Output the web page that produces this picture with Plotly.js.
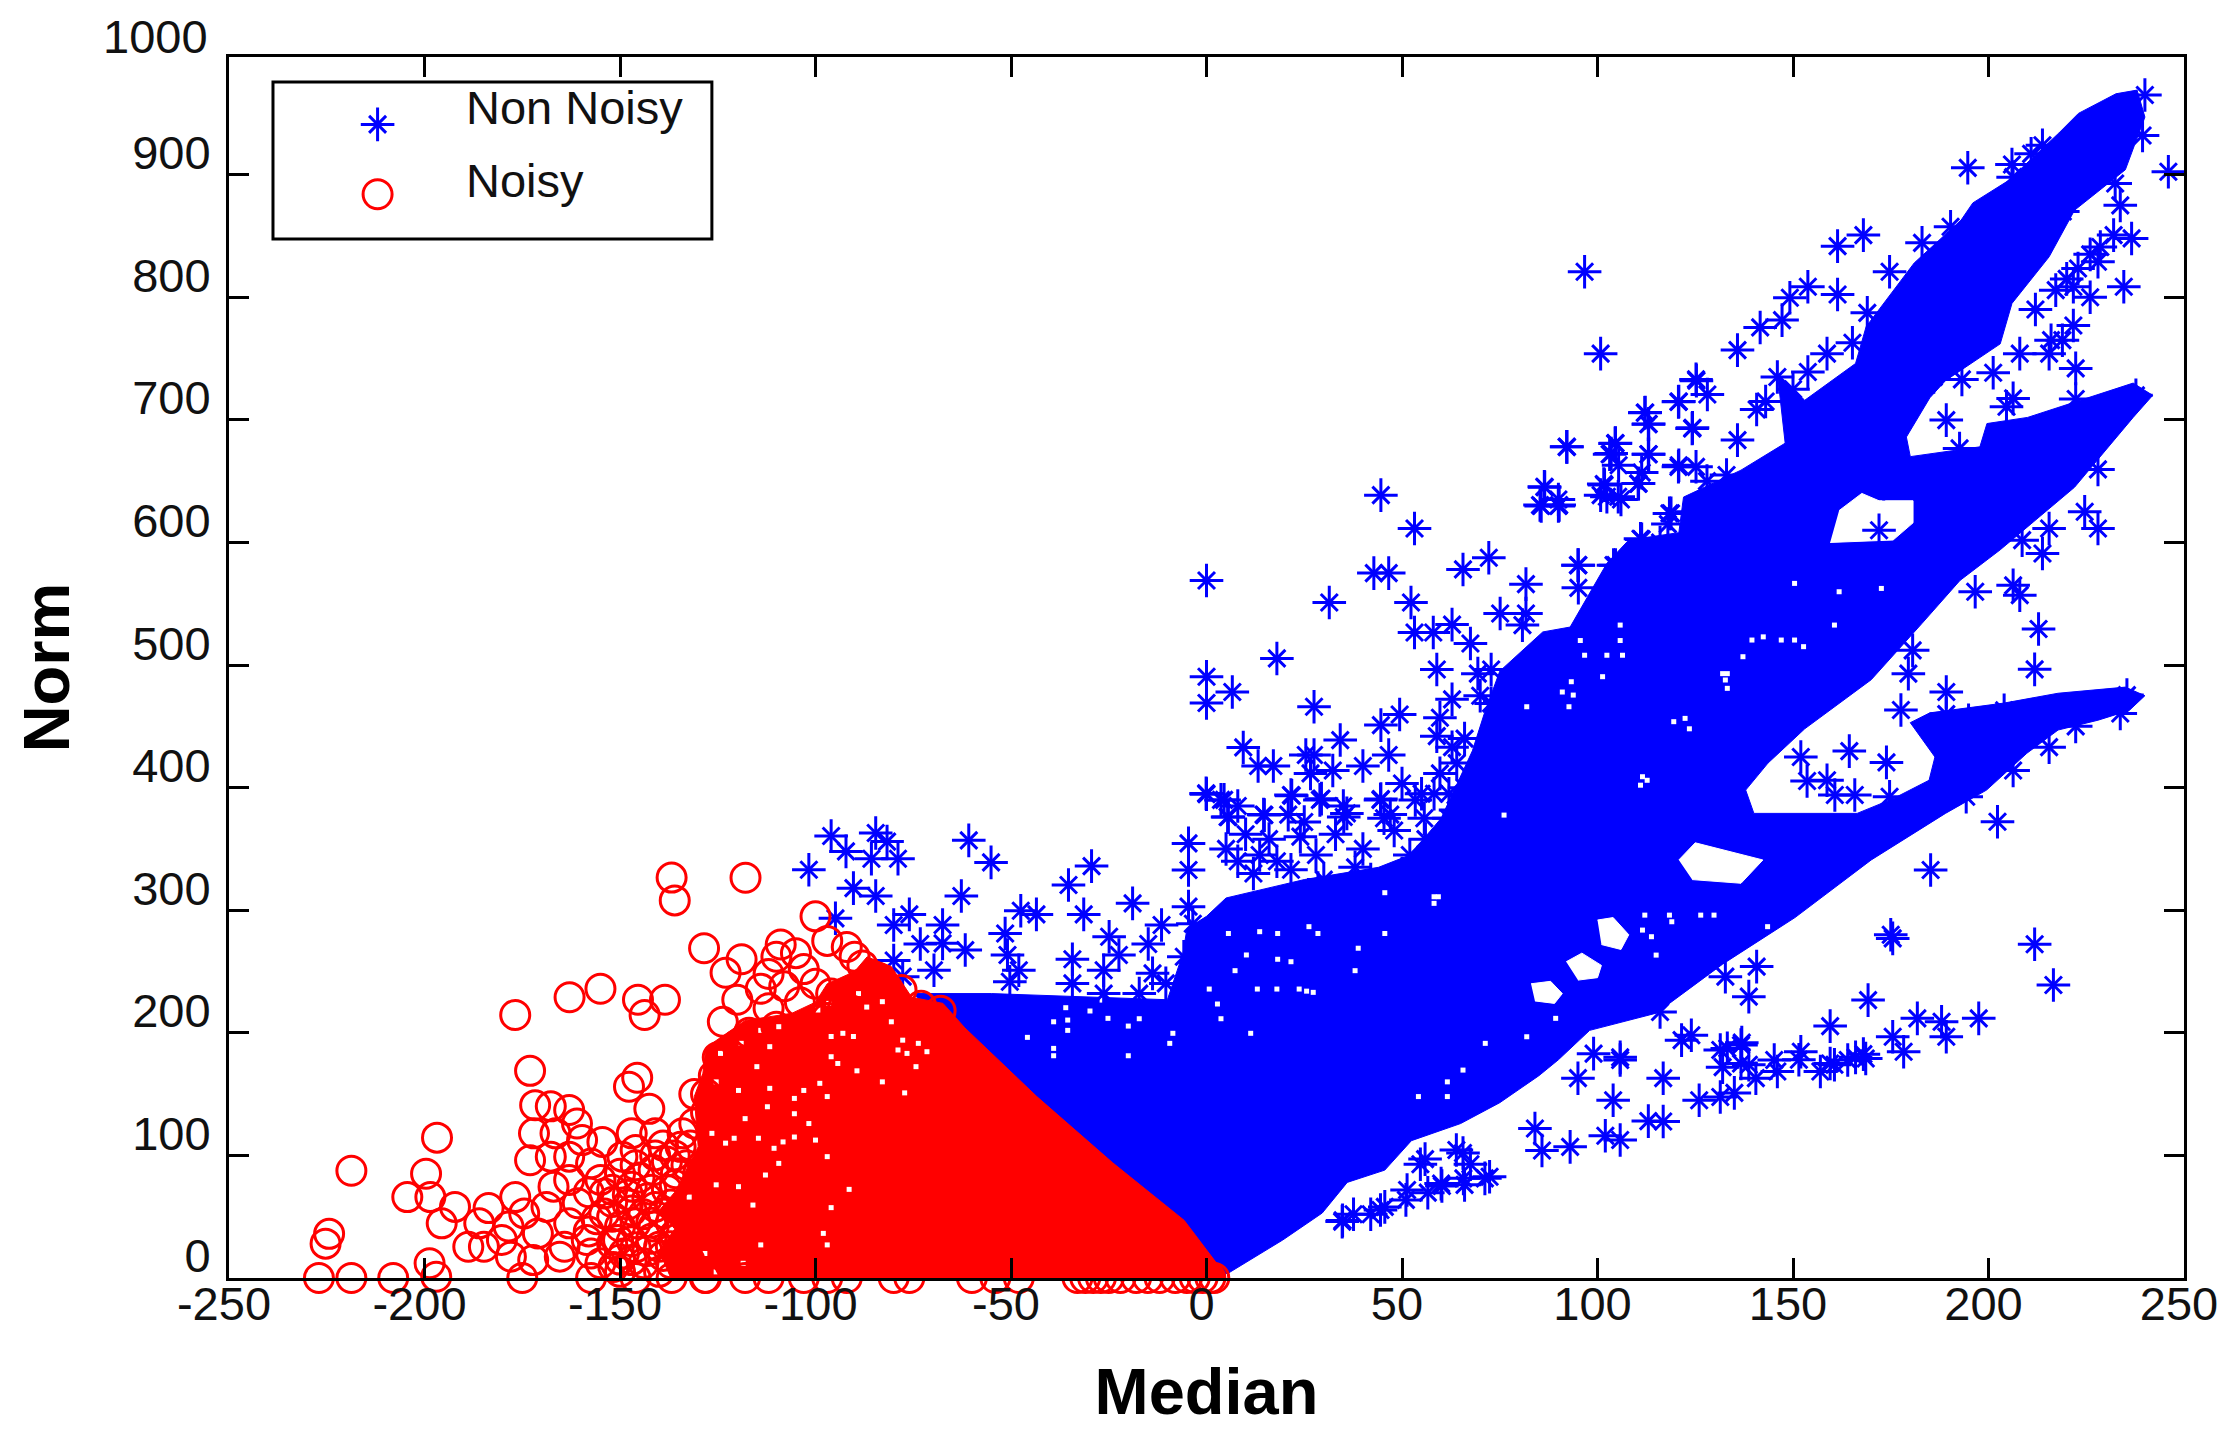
<!DOCTYPE html>
<html><head><meta charset="utf-8">
<script src="https://cdn.plot.ly/plotly-3.0.1.min.js"></script>
<style>html,body{margin:0;padding:0;background:#fff}</style></head>
<body><div id="chart" style="width:2240px;height:1447px"></div>
<script>
const seriesNames = ["Non Noisy","Noisy"];
const xTicks = [-250,-200,-150,-100,-50,0,50,100,150,200,250];
const yTicks = [0,100,200,300,400,500,600,700,800,900];

// outline of the solid blue mass
const denseBlueX = [-75,0,5.6,19.5,29.6,36,45.6,52.4,65,75,85,90,98,115,132,150.5,170,189,199.5,209.8,217.8,228,236,240,235,217.8,204,185,180,186.3,184.8,175.6,166.4,140,137.9,143.6,153,170,183,192.7,203,222,237,242,237,223.4,210,199.6,197.8,180,179,185,189,203,206,215.5,222,235,240,238,232.6,223,218,205,196,193,181,168.7,166,153,146,148,136.7,122,120.8,108,102.4,93,86,75,71,68,60,52,44,25,5,0,-5,-6,-10,-55,-75];
const denseBlueY = [232,0,4,31,53,78,88,112,126,143,165,178,202,216,256,294,341,379,398,428,447,455,463,475,482,477,469,461,453,425,406,391,379,379,398,420,448,488,534,569,594,645,702,720,730,716,702,697,678,670,686,718,732,762,795,833,871,904,947,969,966,950,934,895,877,863,828,776,746,716,738,681,659,637,608,602,583,531,527,495,460,430,375,345,335,325,310,295,285,265,227,232,232];
// white gaps inside the blue mass (null separates gaps)
const gapX = [161.8,167.6,172,180.7,180.7,175.6,159.5,null,120.8,125,142.3,136.7,124.2,null,92,96,101,100,95,null,83,88,91,89,84,null,100,104,108,106,101];
const gapY = [626,640,634,634,616,602,600,null,341,355,341,322,325,null,258,265,255,245,243,null,240,242,232,224,226,null,292,294,280,268,272];
// outline of the solid red mass
const denseRedX = [4.5,4.5,-5.7,-24,-43.4,-53.8,-61.8,-67.4,-75.4,-80.6,-86.8,-90,-97,-100,-106,-118,-128,-128.8,-131,-130,-134.6,-136,-140,-136,-140,-137];
const denseRedY = [0,4,47,94,148,180,204,224,229,254,262,250,240,225,216,210,188,167,148,107,78,70,55,40,22,0];

// individually visible Non Noisy points
const blueX = [100.8,125.3,120.8,112.2,113.1,124.2,92.2,104.6,103.1,113.1,120.8,105.4,111.3,101.6,110.5,100.8,106,86.5,90,85.6,90,44.6,53.2,118.8,111.3,72.2,65.6,95.1,104.6,42.8,46.6,0,81.7,95.1,31.4,52.3,102.7,75.1,81.7,80.8,62.8,53.2,58,67.5,18,58.9,72.8,69.4,0,6.6,0,27.5,62.8,72.8,49.4,44.6,59.7,58.9,34.2,9.4,27.5,46.6,25.4,62.8,13.2,17.1,26.6,32.3,40,59.7,50,0,3.7,21.8,29.4,44.6,53.4,14.6,20.9,5.4,35.1,45.4,55.7,63.7,
-96,-84.6,-81.7,-92.2,-85.7,-78.9,-101.7,-60.8,-55.1,-29.4,-35.3,-90.3,-84.6,-62.7,-18.9,-76,-80,-67.5,-47.5,-43.5,-31.4,-94.9,-51.5,-11.5,-24.9,-73.2,-61.7,-67.5,-14.9,-34.3,-22.4,-50.9,-5.8,-80,-69.7,-48,-26.3,-13.8,-77.7,-50.3,-34.3,-10.4,-26.3,-17.2,-0.1,4.5,21.6,29,14.8,35.9,-4.6,13.6,21.6,-4.6,28.5,-4.6,-3.5,5.6,44.5,58.2,67.3,
194.7,206,213.8,210.9,206.3,96.7,168,161.4,183,190.3,174.7,153.8,149.2,161.4,169,147.2,141.6,135.8,165.2,158.7,153.8,125.2,128.1,120.7,140.7,112.1,113,124.3,135.8,92.1,104.5,103.5,113,120.7,125.2,101.8,110.4,86.4,85.3,90.2,102.4,105.3,118.4,111,95,104.1,
233.7,239.4,240,232.4,236.6,232,228.6,228,222.9,234.6,246,221.7,217.2,221.7,218.9,215.5,208,222.3,201.2,193.2,189.2,192.6,206.3,204.6,237.7,228,224.6,228,215.5,208.6,213.8,186.9,173.2,172,222.3,
196.6,206.3,208,212.8,211.8,189.2,177.6,179.5,180.6,164.4,173.9,152,153.6,158.7,160.7,165.8,174.7,202.3,185.2,175.5,175,211.8,216.6,140.7,132.7,138.7,169.2,116,159.5,181.8,188,197.5,189.2,175.5,178.3,121.5,136.7,133.2,152,145.2,168.6,164,159.5,105.8,99,136.7,132,
84,85.8,93,95,105.8,104,102,105.8,113,116.8,126,131.4,135,140.5,146,151.5,157,160.6,166,168,116.8,124,131.4,136.9,138.7,
34.7,37.6,42,45.6,51,56.6,60.2,65.7,71.2,54.7,63.9,67.5,55.9,65.6,72.4,66,60,51.3,44.5,34.8,
215.5,222.3,233.7,206.3,194.3,235.4,
5,10,12,18,24,28,33,38,40,48,52,56,60,63,8,30,42,50,16,35,8,55,47,25,62,
66,70,64,72,75,66,62,118,124,116,128,133,146,150,143,156,189.2,194.9,204,210.9,212,216,220,226,200,196,186,226,212,219];
const blueY = [754,732,715,706,696.6,693,678,681,672,672,663,663,657,647.6,648,638.6,635,645,635,629.7,629.7,638.6,611.4,623.7,602.5,587.5,578,581.5,581.5,575,575,569,566,563,551,551,558,542,542,532.6,533,526.6,526.6,517.6,505.4,496.4,496.4,493,490.5,478,469,466,472,468.7,459.7,451,457,442,438.8,432.8,426.6,426.6,426.6,433,417.6,417.6,411.6,414,417.6,411.6,403.4,394.7,390,393.4,391,390.7,389.9,378,378,376,376,375,375,381.7,
360.5,363,356,348,342,342,333,357,339,336,320.6,318,311.6,311.6,305.6,296.6,288,288,299.6,296.6,296.6,293.4,281,288,278.4,272.4,267.5,273,272.4,260,263.5,263.5,262,259,251,251,251,248.5,245.8,241.7,240.3,240.3,232,232,395.3,390,394,390,377.6,379,354.5,345,333,332.8,318,302.9,289,376,390,395,390,
905.6,908.3,924,917,898,820.8,850.7,841.7,844.4,857.5,820.8,808.6,799.6,802.3,787.3,781.4,775.4,756.9,762.9,754,739,733,720.7,714.7,708.5,705.8,696.5,693.5,683.5,678,680.8,672.6,672,661.7,661.7,646.8,648,645.4,630.5,630.5,637.3,637.3,623.7,603,581.5,581.5,
875,932,965,892.8,848,850.7,841,829,823.5,808.6,902.4,808.6,805.8,777,765,754,754,742,738.4,733,699.8,676.7,717.5,710.7,720,659.6,625,611.4,611.4,601.9,591,655,648,610,717,
559.8,565,557,529.4,496.5,478,463.3,493,512,429.8,420.6,425,405.4,406,394,394,392.6,372.2,332.8,277,280,272.2,239,254,245.8,229.5,226.7,217,205.5,211.8,209,211.8,196.8,196.8,184.6,194,190,187.3,184.6,177.8,179,177.8,175,177.8,183,175,172,
122,104,107,163,180,145,116,112.6,128,127.7,145,147.6,151,163,168.5,178,168.5,174,180,182.6,163,198,186,192,174,
46,52,52,58,63.7,69.6,75,81.3,81.3,92.8,104.4,92.8,97,102,82.6,76,77,71.8,55.5,47,
433,450,460.5,414,392.6,475.5,
350,362,330,340,360,345,362,335,350,365,345,358,340,362,340,325,325,330,358,385,385,395,378,372,375,
440,475,420,440,470,400,395,615,625,600,650,655,735,725,715,705,460,455,463,455,790,765,815,800,785,765,735,835,850,870];

// individually visible Noisy points
const redX = [-136.8,-136,-117.9,-128.5,-118.9,-108.9,-123,-114,-120,-123.7,-155,-162.9,-145.4,-138.5,-143.7,-176.8,-173,-145.6,-147.7,-171.7,-167.7,-163,-142.5,-172,-161,-147,-141,-154.5,-131,-173,-163,-134.5,-196.8,-218.7,-199.6,-204.4,-198.5,-192.2,-183.6,-176.8,-167,-195.6,-188.8,-178.5,-224.4,-225.3,-198.7,-197,-227,-218.7,-208,-175,
-177.9,-165.4,-157.4,-171,-163,-154,-146,-139,-160.8,-168.8,-154,-147,-141.4,-157.4,-149.4,-135.7,-132.3,-140,-147,-157.4,-146,-136.8,-128.3,-132.3,-184.8,-180.2,-172.2,-186,-158.5,-150.5,-141.4,-167.7,-166.5,-159.7,-146,-163,-174.5,-164.2,-151.7,
-100,-97,-92,-90,-88,-105,-103,-110,-112,-108,-100,-96,-88,-84,-104,-110,-102,-97,-120,-125,-126,-128,-93,-82,-78,-73,-68,-112,-117,
-158,-152,-148,-143,-138,-156,-150,-144,-158,-152,-146,-142,-155,-149,-144,-139,-136,-155,-150,-145,-138,-133,
-150,-147,-140,-137,-143,-137,-150,-142,-137,-152,-147,-141,-137,-148,-142,-136,-152,-146,-141,-136,-132,-139,-130,-134,-128,-131,
-128,-118,-112,-103,-97,-92,-80,-76,-60,-54,-48,-33,-31,-29,-27,-25,-22,-18,-15,-12,-8,-5,-3,-1,1,2];
const redY = [326.6,308,326.5,269,260,272,249,236,227,209,236,229,227,227,214.5,214.5,169,163.4,156,141,140,137,138,118,126,118,118,111,126,96,99,107,114.5,87.5,85,66,66,58,57,66,74.5,44.6,25.5,42,36,28,12,1,0,0,0,0,
17.4,17.4,20,36.4,44.6,52.7,44.6,52.7,61,58,69,74.5,88,93.5,99,85.4,63.6,25.5,14.6,0,0,0,0,14.6,25.5,31,14.6,44.6,31,31,42,99,118,112.5,104.4,80,52.7,25.5,9,
295,275,270,262,255,265,252,262,248,238,240,232,240,245,225,205,205,212,190,180,165,150,220,225,235,222,218,220,200,
70,62,60,65,72,48,42,52,38,28,25,32,12,20,12,18,35,80,85,82,95,92,
5,30,5,12,22,26,15,45,45,50,55,58,60,68,72,76,72,92,100,100,108,108,85,118,135,150,
0,0,0,0,0,0,0,0,0,0,0,0,0,0,0,0,0,0,0,0,0,0,0,0,0,0];

// small unmarked spots left in the blue mass
const blueSpeckX = [0.7,13,18,23.7,25.6,27.3,2.8,3.7,11.3,-8.6,-9.4,-39.1,-39.1,-20,-45.8,-39.1,-35.5,-35.5,-25.2,-20,-17.2,-29.8,-36,-26.7,45.6,45.6,38,7.3,10.2,18.2,21.6,13.6,18.2,26.2,28.5,5.6,38.8,54.2,61.6,61.6,65.6,71.3,58.2,59.3,58.2,119.5,122.4,123.5,111.5,112.7,111,76.1,132,133.2,132.7,133.2,147,150.4,152.7,139.5,142.4,137.2,93.3,101.3,91,93.8,92.7,81.9,105.8,95.6,105.8,96.7,102.4,106.4,150.4,161.8,172.6,160.6,112.1,118.4,111.5,113.8,115,119,129.8,126.4,143.5,89.3,81.9];
const blueSpeckY = [235.7,235.7,235.7,235.7,234,233,223.5,211.5,199.6,199.6,191.4,187.3,181.3,181.3,196.3,209,210.4,202,211.8,205.5,211.5,217.8,220.5,226.7,314.3,281,250.7,250.7,263.5,260,258,282.5,281,286.6,281,281,269,148,148,160,169.6,191.4,311,311,305.6,453.8,456.5,448,408.9,406,402,377.6,493,493,487.8,481,520.4,520.4,515,520.4,523,506.8,486.4,490.5,478,475.5,466,466,532.6,520,520,508,508,508,566.6,559.8,562.5,532.6,296,296,283.8,278.4,263.4,290.6,296,296,286.6,211.8,196.8];
// small unmarked spots left in the red mass
const redSpeckX = [-91.4,-96,-98,-97,-77.2,-82.9,-89.4,-74.3,-71.5,-76.6,-78.9,-97,-97,-100,-101.7,-103,-96,-94.3,-98.9,-73.7,-77.7,-80.6,-90.3,-96,-99.4,-86.9,-82.9,-89,-96.6,-93,-112.3,-118,-105.4,-114.6,-105.4,-110.6,-123,-120.8,-126.5,-112.8,-119.7,-125.4,-116,-132.3,-114,-118.5,-125.4,-128.3,-108.3,-109.4,-119.7,-125.4,-111.7,-105.4,-111.7,-114,-109.4,-119,-115,-124.3];
const redSpeckY = [72.3,57.4,36.4,27,151,160,169,172.4,184.6,183.2,186,148,99,112.5,126,153,180.5,175,158.8,191.4,194,209,197,197,218.6,221,225.4,232,224,199.6,139.7,130,134,114,115,105.8,110,114,118,84,74.5,76,59.5,66,27,12,5,20,111,93.5,153,160,154.7,146.5,188.7,202,205,191.4,172.4,183.2];

// legend keys
const keyX = [-212];
const keyBlueY = [941];
const keyRedY = [884];

const BLUE='#0000ff', RED='#ff0000', FONT='Liberation Sans', INK='#111111';
const fillTrace=(x,y,c)=>({x,y,type:'scatter',mode:'lines',fill:'toself',fillcolor:c,line:{color:c,width:1},hoverinfo:'skip',showlegend:false});
const armTrace=(x,y,name)=>({x,y,name,type:'scatter',mode:'markers',cliponaxis:false,showlegend:false,
  marker:{symbol:'cross-thin-open',size:24,color:BLUE,line:{color:BLUE,width:3}}});
const diagTrace=(x,y)=>({x,y,type:'scatter',mode:'markers',cliponaxis:false,showlegend:false,hoverinfo:'skip',
  marker:{symbol:'x-thin-open',size:17,color:BLUE,line:{color:BLUE,width:3}}});
const ringTrace=(x,y,name)=>({x,y,name,type:'scatter',mode:'markers',cliponaxis:false,showlegend:false,
  marker:{symbol:'circle-open',size:29,color:RED,line:{color:RED,width:3}}});
const speckTrace=(x,y)=>({x,y,type:'scatter',mode:'markers',hoverinfo:'skip',showlegend:false,
  marker:{symbol:'square',size:5,color:'#ffffff',line:{width:0}}});

const data=[
  fillTrace(denseBlueX,denseBlueY,BLUE),
  fillTrace(gapX,gapY,'#ffffff'),
  speckTrace(blueSpeckX,blueSpeckY),
  diagTrace(blueX,blueY),
  armTrace(blueX,blueY,seriesNames[0]),
  fillTrace(denseRedX,denseRedY,RED),
  speckTrace(redSpeckX,redSpeckY),
  ringTrace(redX,redY,seriesNames[1]),
  diagTrace(keyX,keyBlueY),
  armTrace(keyX,keyBlueY,seriesNames[0]),
  ringTrace(keyX,keyRedY,seriesNames[1])
];

const axisBase={showgrid:false,zeroline:false,showline:true,linecolor:'#000',linewidth:3,mirror:'ticks',
  ticks:'inside',ticklen:20,tickwidth:3,tickcolor:'#000',tickmode:'array',
  tickfont:{family:FONT,size:47,color:INK}};

const textNote=(text,x,y)=>({text,xref:'paper',yref:'paper',x,y,xanchor:'left',yanchor:'middle',showarrow:false,
  font:{family:FONT,size:47,color:INK}});

const layout={
  width:2240,height:1447,autosize:false,
  margin:{l:229,r:56,t:57,b:169,pad:0},
  paper_bgcolor:'#fff',plot_bgcolor:'#fff',showlegend:false,
  xaxis:Object.assign({},axisBase,{range:[-250,250],tickvals:xTicks,ticktext:xTicks.map(String),ticklabelshift:-5,ticklabelstandoff:-17,
    title:{text:'Median',standoff:40,font:{family:FONT,size:65,color:'#000',weight:'bold'}}}),
  yaxis:Object.assign({},axisBase,{range:[0,996],tickvals:yTicks,ticktext:yTicks.map(String),ticklabelshift:-22,ticklabelstandoff:6,
    title:{text:'Norm',standoff:42,font:{family:FONT,size:65,color:'#000',weight:'bold'}}}),
  shapes:[{type:'rect',xref:'paper',yref:'paper',x0:0.0225,x1:0.247,y0:0.851,y1:0.9795,line:{color:'#000',width:3},fillcolor:'#fff',layer:'below'}],
  annotations:[
    {text:'1000',xref:'paper',yref:'paper',x:0,y:1,xshift:-19,yshift:21,xanchor:'right',yanchor:'middle',showarrow:false,font:{family:FONT,size:47,color:INK}},
    textNote(seriesNames[0],0.120,0.959),
    textNote(seriesNames[1],0.120,0.899)
  ]
};
Plotly.newPlot('chart',data,layout,{displayModeBar:false,staticPlot:true});
</script></body></html>
